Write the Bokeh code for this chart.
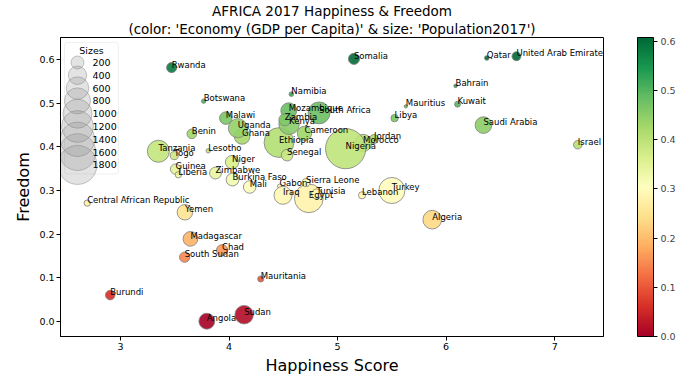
import numpy as np
from bokeh.plotting import figure
from bokeh.models import (ColumnDataSource, LinearColorMapper, ColorBar, FixedTicker,
                          PrintfTickFormatter, Range1d, Title, BoxAnnotation, LabelSet)
from bokeh.core.properties import value
from bokeh.embed import file_html
from bokeh.resources import INLINE

# ---------------- data ----------------
countries = ["Algeria", "Angola", "Bahrain", "Benin", "Botswana", "Burkina Faso", "Burundi",
             "Cameroon", "Central African Republic", "Chad", "Egypt", "Ethiopia", "Gabon",
             "Ghana", "Guinea", "Iraq", "Israel", "Jordan", "Kenya", "Kuwait", "Lebanon",
             "Lesotho", "Liberia", "Libya", "Madagascar", "Malawi", "Mali", "Mauritania",
             "Mauritius", "Morocco", "Mozambique", "Namibia", "Niger", "Nigeria", "Qatar",
             "Rwanda", "Saudi Arabia", "Senegal", "Sierra Leone", "Somalia", "South Africa",
             "South Sudan", "Sudan", "Tanzania", "Togo", "Tunisia", "Turkey", "Uganda",
             "United Arab Emirates", "Yemen", "Zambia", "Zimbabwe"]
happiness = [5.872, 3.795, 6.087, 3.657, 3.766, 4.032, 2.905,
             4.695, 2.693, 3.936, 4.735, 4.460, 4.465,
             4.120, 3.507, 4.497, 7.213, 5.336, 4.553, 6.105, 5.225,
             3.808, 3.533, 5.525, 3.644, 3.970, 4.190, 4.292,
             5.629, 5.235, 4.550, 4.574, 4.028, 5.074, 6.375,
             3.471, 6.344, 4.535, 4.709, 5.151, 4.829,
             3.591, 4.139, 3.349, 3.495, 4.805, 5.500, 4.081,
             6.648, 3.593, 4.514, 3.875]
freedom = [0.233, 0.000, 0.540, 0.430, 0.505, 0.325, 0.060,
           0.431, 0.271, 0.163, 0.282, 0.410, 0.310,
           0.424, 0.349, 0.289, 0.405, 0.418, 0.452, 0.498, 0.289,
           0.391, 0.336, 0.466, 0.189, 0.466, 0.308, 0.097,
           0.493, 0.409, 0.483, 0.521, 0.365, 0.396, 0.604,
           0.582, 0.450, 0.381, 0.318, 0.602, 0.478,
           0.147, 0.015, 0.390, 0.380, 0.292, 0.300, 0.443,
           0.608, 0.250, 0.462, 0.340]
population_m = [41.3, 29.8, 1.5, 11.2, 2.3, 19.2, 10.9,
                24.1, 4.7, 14.9, 97.6, 105.0, 2.0,
                28.8, 12.7, 38.3, 8.7, 9.7, 49.7, 4.1, 6.1,
                2.2, 4.7, 6.4, 25.6, 18.6, 18.5, 4.4,
                1.3, 35.7, 29.7, 2.5, 21.5, 190.9, 2.6,
                12.2, 32.9, 15.9, 7.6, 14.7, 56.7,
                12.6, 40.5, 57.3, 7.8, 11.5, 80.7, 42.9,
                9.4, 28.3, 17.1, 16.5]
legend_sizes = [200, 400, 600, 800, 1000, 1200, 1400, 1600, 1800]
x_ticks = [3, 4, 5, 6, 7]
y_ticks = [0.0, 0.1, 0.2, 0.3, 0.4, 0.5, 0.6]
cb_ticks = [0.0, 0.1, 0.2, 0.3, 0.4, 0.5, 0.6]

title_line1 = "AFRICA 2017 Happiness & Freedom"
title_line2 = "(color: 'Economy (GDP per Capita)' & size: 'Population2017')"

# ---------------- styling ----------------
FONT = "DejaVu Sans"
RDYLGN_11 = ['#a50026', '#d73027', '#f46d43', '#fdae61', '#fee08b', '#ffffbf',
             '#d9ef8b', '#a6d96a', '#66bd63', '#1a9850', '#006837']


def interp_palette_hex(colors, n):
    rgb = np.array([[int(c[i:i + 2], 16) for i in (1, 3, 5)] for c in colors], dtype=float)
    pos = np.linspace(0, 1, len(colors))
    t = np.linspace(0, 1, n)
    cols = np.stack([np.interp(t, pos, rgb[:, k]) for k in range(3)], axis=1)
    return ['#%02x%02x%02x' % tuple(int(round(v)) for v in row) for row in cols]


palette = interp_palette_hex(RDYLGN_11, 256)
PX_PER_PT = 0.92  # marker diameter (px) per sqrt(points^2)

FW, FH = 543, 299
CB_GAP = 34

src = ColumnDataSource(dict(
    x=happiness, y=freedom, name=countries,
    size=[PX_PER_PT * np.sqrt(pm * 10.0) for pm in population_m],
))

mapper = LinearColorMapper(palette=palette, low=0.0, high=max(freedom))

p = figure(frame_width=FW, frame_height=FH,
           x_range=Range1d(2.447, 7.45), y_range=Range1d(-0.035, 0.651),
           output_backend="svg", toolbar_location=None,
           min_border_left=60, min_border_top=0, min_border_bottom=0, min_border_right=72,
           background_fill_color="white", border_fill_color="white")

p.xgrid.visible = False
p.ygrid.visible = False
p.outline_line_color = "black"
p.outline_line_alpha = 1.0

for ax in (p.xaxis[0], p.yaxis[0]):
    ax.major_label_text_font = FONT
    ax.major_label_text_font_size = "9.5px"
    ax.major_label_text_color = "black"
    ax.axis_label_text_font = FONT
    ax.axis_label_text_font_size = "16px"
    ax.axis_label_text_font_style = "normal"
    ax.axis_label_text_color = "black"
    ax.axis_line_color = "black"
    ax.major_tick_line_color = "black"
    ax.major_tick_in = 0
    ax.major_tick_out = 4
    ax.minor_tick_line_color = None
    ax.major_label_standoff = 2
    ax.axis_label_standoff = 3

p.xaxis.ticker = FixedTicker(ticks=x_ticks)
p.xaxis.formatter = PrintfTickFormatter(format="%d")
p.yaxis.ticker = FixedTicker(ticks=y_ticks)
p.yaxis.formatter = PrintfTickFormatter(format="%.1f")
p.xaxis.axis_label = "Happiness Score"
p.yaxis.axis_label = "Freedom"

# titles (added closest-first)
p.add_layout(Title(text=title_line2, align="center", text_font=FONT, text_font_size="13.5px",
                   text_font_style="normal", text_color="black", standoff=1), "above")
p.add_layout(Title(text=title_line1, align="center", text_font=FONT, text_font_size="13.5px",
                   text_font_style="normal", text_color="black", standoff=0), "above")

# bubbles
p.scatter("x", "y", source=src, size="size",
          fill_color={"field": "y", "transform": mapper}, fill_alpha=0.9,
          line_color="#7f7f7f", line_width=0.8)

# country labels (left/baseline at the point, like matplotlib annotate; not clipped)
p.add_layout(LabelSet(x="x", y="y", text="name", source=src,
                      text_font=value(FONT), text_font_size=value("8.5px"),
                      text_align="left", text_baseline="alphabetic", text_color="black"))

# ---------------- size legend (pixel-space ranges over the frame) ----------------
p.extra_x_ranges = {"leg_x": Range1d(0, FW)}
p.extra_y_ranges = {"leg_y": Range1d(FH, 0)}
leg_left, leg_top, leg_w = 4, 5, 54
row0, row_h = 25, 12.8
leg_rows = [row0 + row_h * i for i in range(len(legend_sizes))]
leg_bottom = leg_rows[-1] + 9

p.add_layout(BoxAnnotation(left=leg_left, right=leg_left + leg_w, top=leg_top, bottom=leg_bottom,
                           x_range_name="leg_x", y_range_name="leg_y",
                           fill_color="white", fill_alpha=0.8, line_color="#cccccc",
                           line_width=1, border_radius=3, level="underlay"))
p.scatter(x=[leg_left + 13] * len(legend_sizes), y=leg_rows,
          size=[PX_PER_PT * np.sqrt(s) for s in legend_sizes],
          fill_color="gray", fill_alpha=0.22, line_color="gray", line_alpha=0.45,
          x_range_name="leg_x", y_range_name="leg_y")
p.text(x=[leg_left + 28] * len(legend_sizes), y=leg_rows, text=[str(s) for s in legend_sizes],
       text_font=value(FONT), text_font_size="9.5px", text_align="left", text_baseline="middle",
       text_color="black", x_range_name="leg_x", y_range_name="leg_y")
p.text(x=[leg_left + leg_w / 2], y=[leg_top + 8], text=["Sizes"],
       text_font=value(FONT), text_font_size="9.5px", text_align="center", text_baseline="middle",
       text_color="black", x_range_name="leg_x", y_range_name="leg_y")

# ---------------- colour bar ----------------
cb = ColorBar(color_mapper=mapper, ticker=FixedTicker(ticks=cb_ticks),
              formatter=PrintfTickFormatter(format="%.1f"),
              width=16, height=FH, padding=0, margin=0, location=(CB_GAP, 0),
              bar_line_color="black", major_tick_line_color="black",
              major_tick_in=0, major_tick_out=4, minor_tick_line_color=None,
              major_label_text_font=FONT, major_label_text_font_size="9.5px",
              label_standoff=3, background_fill_alpha=0, border_line_color=None)
p.add_layout(cb, "right")

open("out.html", "w").write(file_html(p, INLINE))
